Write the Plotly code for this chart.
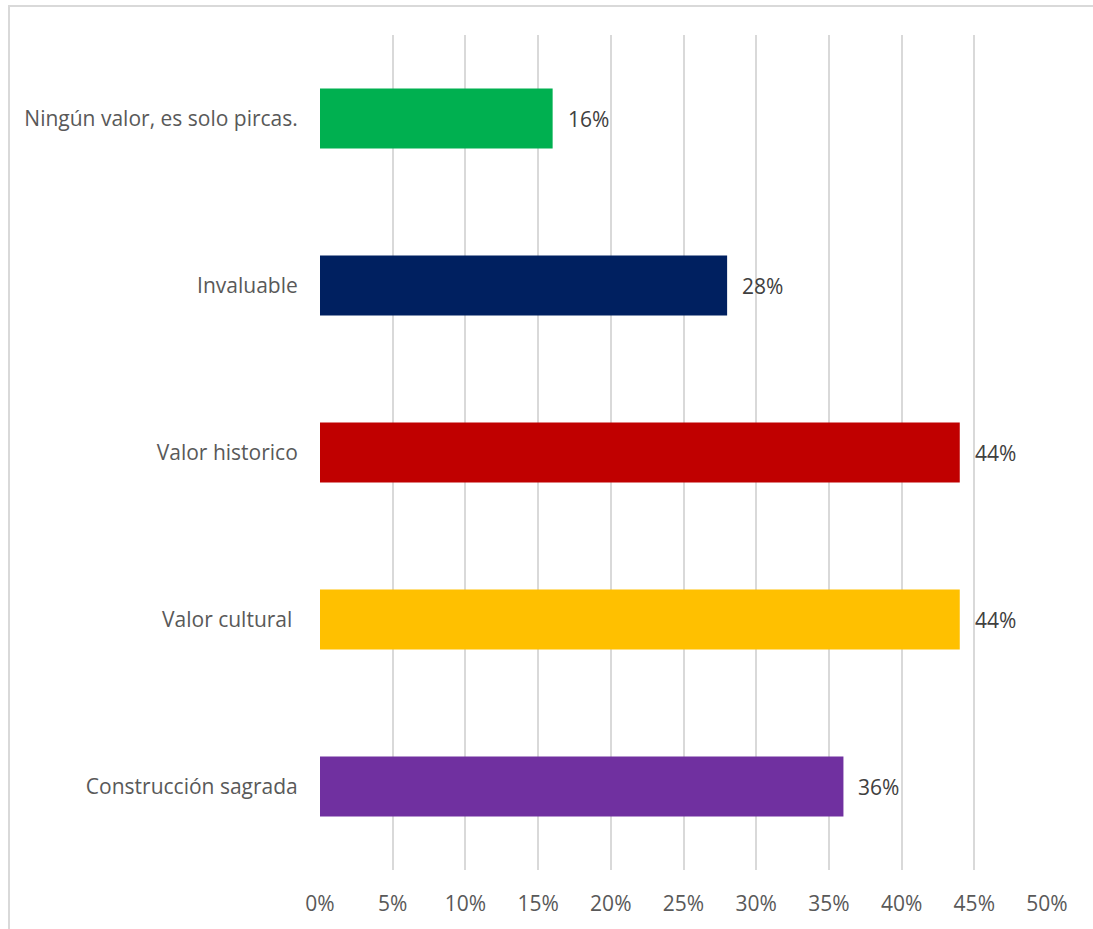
import plotly.graph_objects as go

categories = ["Construcción sagrada", "Valor cultural\u00a0", "Valor historico", "Invaluable", "Ningún valor, es solo pircas."]
values = [36, 44, 44, 28, 16]
colors = ["#7030A0", "#FFC000", "#C00000", "#002060", "#00B050"]
tick_vals = [0, 5, 10, 15, 20, 25, 30, 35, 40, 45, 50]
tick_text = [f"{v}%" for v in tick_vals]

FONT = "Open Sans"
TXT = "#595959"
FS = 21

fig = go.Figure()
fig.add_trace(go.Bar(
    x=values, y=categories, orientation="h",
    marker=dict(color=colors, line=dict(width=0)),
    width=0.36, hoverinfo="skip",
))
for v, c in zip(values, categories):
    fig.add_annotation(x=v, y=c, text=f"{v}%", showarrow=False, xanchor="left",
                       xshift=13, font=dict(family=FONT, size=FS, color="#404040"))

W, H = 1093, 929
L, R, T, B = 320, 46, 35, 57
pw, ph = W - L - R, H - T - B
fig.add_shape(type="rect", xref="paper", yref="paper",
              x0=(9 - L) / pw, x1=(W + 5 - L) / pw,
              y0=-(H + 5 - T - ph) / ph, y1=1 + (T - 6) / ph,
              line=dict(color="#D9D9D9", width=2), fillcolor="rgba(0,0,0,0)", layer="below")

fig.update_layout(
    width=W, height=H,
    margin=dict(l=L, r=R, t=T, b=B),
    paper_bgcolor="white", plot_bgcolor="white",
    showlegend=False,
    font=dict(family=FONT, size=FS, color=TXT),
    xaxis=dict(range=[0, 50], tickvals=tick_vals, ticktext=tick_text,
               showgrid=True, gridcolor="#D9D9D9", gridwidth=2,
               zeroline=False, showline=False,
               ticks="outside", ticklen=15, tickcolor="rgba(0,0,0,0)",
               tickfont=dict(family=FONT, size=FS, color=TXT), fixedrange=True),
    yaxis=dict(categoryorder="array", categoryarray=categories,
               showgrid=False, zeroline=False, showline=False,
               ticks="outside", ticklen=17, tickcolor="rgba(0,0,0,0)",
               tickfont=dict(family=FONT, size=FS, color=TXT), fixedrange=True),
)

fig.write_html("out.html", config={"displayModeBar": False},
               post_script="document.body.style.margin='0';document.body.style.overflow='hidden';")
